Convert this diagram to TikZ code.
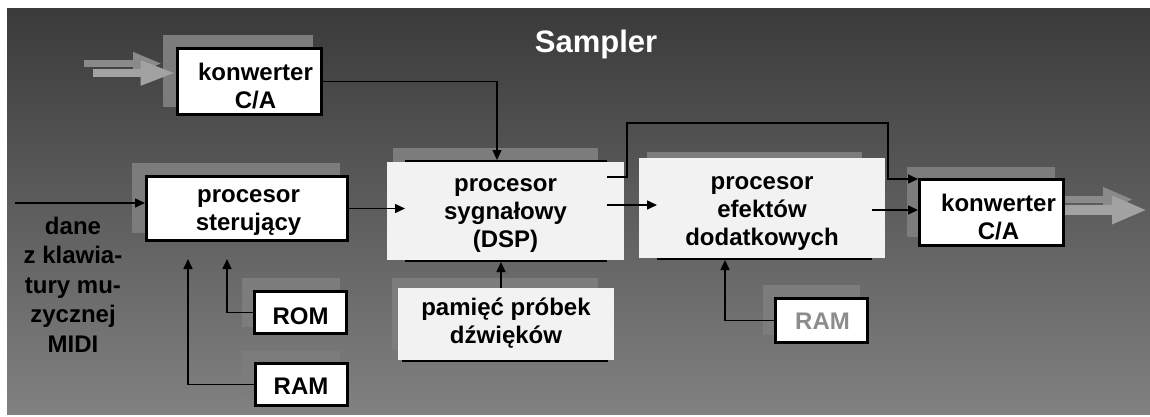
\documentclass[tikz,border=0pt]{standalone}
\usepackage{fontspec}
\setmainfont{Liberation Sans}
\usetikzlibrary{arrows.meta,calc}
\definecolor{bgtop}{HTML}{3A3A3A}
\definecolor{bgbot}{HTML}{818181}
\definecolor{shadowgray}{HTML}{7C7C7C}
\definecolor{cover}{HTML}{F2F2F2}
\definecolor{garrowA}{HTML}{8A8A8A}
\definecolor{garrowB}{HTML}{A2A2A2}
\definecolor{ramtext}{HTML}{8C8C8C}
\begin{document}
\begin{tikzpicture}[x=1pt,y=-1pt,
  bbox/.style={draw=black, line width=3pt, fill=white, inner sep=0pt},
  blk/.style={draw=black, line width=2pt, fill=white, inner sep=0pt},
  cov/.style={fill=cover, draw=none, inner sep=0pt},
  txt/.style={align=center, inner sep=0pt, text=black, font=\bfseries\fontsize{24}{28}\selectfont},
  conn/.style={line width=1.5pt, draw=black, -{Triangle[length=10pt,width=9pt]}},
  shadowr/.style={fill=shadowgray, draw=none}
]
\useasboundingbox (0,0) rectangle (1150,416);
\fill[white] (0,0) rectangle (1150,416);
\shade[top color=bgtop, bottom color=bgbot] (7,8) rectangle (1150,414);

% title
\node[anchor=base, text=white, inner sep=0pt, font=\bfseries\fontsize{31}{36}\selectfont] (title) at (596,52) {Sampler};

% shadows
\fill[shadowr] (163,35) rectangle (313,107);
\fill[shadowr] (907,167) rectangle (1055,237);
\fill[shadowr] (132,163) rectangle (340,233);
\fill[shadowr] (242,278) rectangle (340,327);
\fill[shadowr] (242,351) rectangle (340,398);
\fill[shadowr] (763,285) rectangle (860,335);
\fill[shadowr] (393,148) rectangle (598,250);
\fill[shadowr] (647,152) rectangle (862,250);
\fill[shadowr] (392,278) rectangle (598,350);

% gray input/output arrows (drawn below boxes)
\coordinate (ga1) at (84,63.5);
\coordinate (ga1e) at (162,63.5);
\coordinate (ga2) at (93,73);
\coordinate (gb1) at (1133,199.5);
\coordinate (gb2) at (1147,210);
\node[bbox, minimum width=144pt, minimum height=66pt, draw=none, fill=none] (konwAref) at (249,81.5) {};
\node[bbox, minimum width=144pt, minimum height=66pt, draw=none, fill=none] (konwBref) at (991.5,212.5) {};
\draw[line width=7pt, garrowA, -{Triangle[length=29pt,width=21pt]}] (ga1) -- (ga1e);
\draw[line width=8pt, garrowB, -{Triangle[length=35pt,width=23pt]}] (ga2) -- (konwAref.west |- ga2);
\draw[line width=7pt, garrowA, -{Triangle[length=30pt,width=23pt]}] (konwBref.east |- gb1) -- (gb1);
\draw[line width=10pt, garrowB, -{Triangle[length=35pt,width=26pt]}] (konwBref.east |- gb2) -- (gb2);

% boxes with thick border
\node[bbox, minimum width=144pt, minimum height=66pt,
  label={[txt,xshift=6.5pt,yshift=-5pt]center:{konwerter\\C/A}}] (konwA) at (249,81.5) {};
\node[bbox, minimum width=144pt, minimum height=66pt,
  label={[txt,xshift=7pt,yshift=-5pt]center:{konwerter\\C/A}}] (konwB) at (991.5,212.5) {};
\node[bbox, minimum width=201pt, minimum height=64pt,
  label={[txt,xshift=1.5pt,yshift=-4pt]center:{procesor\\sterujący}}] (ps) at (247,208.5) {};
\node[bbox, minimum width=92pt, minimum height=42pt,
  label={[txt,yshift=-4pt]center:{ROM}}] (rom) at (300.5,312.5) {};
\node[bbox, minimum width=92pt, minimum height=42pt,
  label={[txt,yshift=-1.5pt]center:{RAM}}] (ramL) at (301,384.5) {};
\node[bbox, minimum width=92pt, minimum height=44pt,
  label={[txt,text=ramtext,xshift=1pt,yshift=-1pt]center:{RAM}}] (ramR) at (821.5,320.5) {};

% processor blocks: black frame partly hidden by a light cover
\node[blk, minimum width=200pt, minimum height=100pt] (dsp) at (506,211) {};
\node[cov, minimum width=237pt, minimum height=98pt,
  label={[txt,yshift=-5pt]center:{procesor\\sygnałowy\\(DSP)}}] (dspc) at (505.5,211) {};
\node[blk, minimum width=213pt, minimum height=88pt] (efx) at (764.5,215) {};
\node[cov, minimum width=246pt, minimum height=100pt,
  label={[txt,yshift=-6pt]center:{procesor\\efektów\\dodatkowych}}] (efxc) at (762,208) {};
\node[blk, minimum width=204pt, minimum height=68pt] (mem) at (505,327) {};
\node[cov, minimum width=216pt, minimum height=72pt,
  label={[txt,yshift=1pt]center:{pamięć próbek\\dźwięków}}] (memc) at (506,324) {};

% input text
\node[txt, font=\bfseries\fontsize{24}{29.5}\selectfont] (dane) at (73,284.3) {dane\\z klawia-\\tury mu-\\zycznej\\MIDI};

% connectors
\coordinate (in) at (15,203);
\coordinate (xa) at (497,0);
\coordinate (xm) at (501,0);
\coordinate (ya) at (0,205);
\coordinate (yb) at (0,177);
\coordinate (yc) at (0,210);
\coordinate (k1) at (627,123);
\coordinate (k2) at (888,179);
\coordinate (xr) at (725,0);
\coordinate (x1) at (227,0);
\coordinate (x2) at (188,0);

\draw[conn] (in) -- (in -| ps.west);
\draw[conn] (ps.east) -- (ps.east -| dsp.west);
\draw[conn] (konwA.east) -| (dsp.north -| xa);
\draw[conn] (memc.north -| xm) -- (dsp.south -| xm);
\draw[conn] (dsp.east |- ya) -- (efx.west |- ya);
\draw[conn] (dsp.east |- yb) -| (k1) -| (k2) -- (konwB.west |- k2);
\draw[conn] (efx.east |- yc) -- (konwB.west |- yc);
\draw[conn] (ramR.west) -| (efx.south -| xr);
\draw[conn, shorten >=17pt] (rom.west) -| (ps.south -| x1);
\draw[conn, shorten >=17pt] (ramL.west) -| (ps.south -| x2);
\end{tikzpicture}
\end{document}
